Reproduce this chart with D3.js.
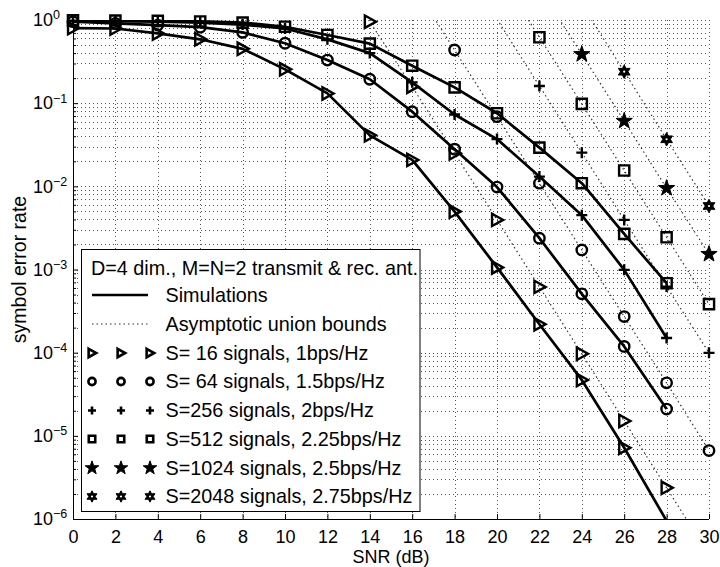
<!DOCTYPE html>
<html><head><meta charset="utf-8">
<script src="https://cdn.jsdelivr.net/npm/d3@7"></script>
<style>
html,body{margin:0;padding:0;background:#fff;}
svg{display:block;font-family:"Liberation Sans",Arial,Helvetica,sans-serif;}
</style></head>
<body>
<svg id="chart" width="720" height="567"></svg>
<script>
// ---------- data ----------
const snrSim = [0,2,4,6,8,10,12,14,16,18,20,22,24,26,28];
const xTicks = [0,2,4,6,8,10,12,14,16,18,20,22,24,26,28,30];
const yMajor = [1e-6,1e-5,1e-4,1e-3,1e-2,1e-1,1];
const yExp = ["\u22126","\u22125","\u22124","\u22123","\u22122","\u22121","0"];

const sim16  = [0.80,0.79,0.69,0.586,0.45,0.255,0.131,0.041,0.0208,0.00497,0.00106,0.00022,0.000047,0.0000072,0.00000095];
const sim64  = [0.954,0.91,0.87,0.82,0.71,0.525,0.33,0.194,0.079,0.028,0.0098,0.00238,0.00051,0.000119,0.000021];
const sim256 = [0.98,0.97,0.955,0.93,0.88,0.79,0.585,0.40,0.178,0.073,0.037,0.0131,0.0045,0.00099,0.00015];
const sim512 = [0.99,0.985,0.975,0.96,0.93,0.83,0.66,0.52,0.282,0.155,0.0756,0.0292,0.0109,0.00268,0.000684];

const bSnr16   = [12,14,16,18,20,22,24,26,28,30];
const bound16  = [6.0,0.954,0.158,0.025,0.00395,0.000618,0.000097,0.0000151,0.00000237,0.00000037];
const bSnr64   = [16,18,20,22,24,26,28,30];
const bound64  = [2.75,0.436,0.0688,0.0109,0.00172,0.000272,0.0000434,0.00000665];
const bSnr256  = [20,22,24,26,28,30];
const bound256 = [1.02,0.161,0.0254,0.00395,0.000623,0.0000995];
const bSnr512  = [20,22,24,26,28,30];
const bound512 = [3.9,0.62,0.098,0.0155,0.00244,0.000383];
const bSnr1024 = [22,24,26,28,30];
const bound1024= [2.4,0.387,0.061,0.0095,0.00153];
const bSnr2048 = [24,26,28,30];
const bound2048= [1.55,0.239,0.0368,0.0058];

const legendTitle = "D=4 dim., M=N=2 transmit & rec. ant.";
const legendLines = ["Simulations","Asymptotic union bounds"];
const legendSeries = ["S= 16 signals, 1bps/Hz","S= 64 signals, 1.5bps/Hz","S=256 signals, 2bps/Hz",
  "S=512 signals, 2.25bps/Hz","S=1024 signals, 2.5bps/Hz","S=2048 signals, 2.75bps/Hz"];
const markerTypes = ["tri","circle","plus","square","star","hex"];

// ---------- layout ----------
const L=73, R=709, T=20, B=519;
const svg = d3.select("#chart");
const x = d3.scaleLinear().domain([0,30]).range([L,R]);
const y = d3.scaleLog().domain([1e-6,1]).range([B,T]);

svg.append("defs").append("clipPath").attr("id","clip")
  .append("rect").attr("x",L).attr("y",T).attr("width",R-L).attr("height",B-T);

// grid
const yMinor = [];
for (let e=-6;e<0;e++) for (let k=2;k<=9;k++) yMinor.push(k*Math.pow(10,e));
const grid = svg.append("g").attr("stroke","#555").attr("stroke-width",1).attr("stroke-dasharray","1,3");
grid.selectAll("line.v").data(xTicks).join("line").attr("class","v")
  .attr("x1",d=>Math.round(x(d))+0.5).attr("x2",d=>Math.round(x(d))+0.5).attr("y1",T).attr("y2",B);
grid.selectAll("line.h").data(yMajor.concat(yMinor)).join("line").attr("class","h")
  .attr("y1",d=>Math.round(y(d))+0.5).attr("y2",d=>Math.round(y(d))+0.5).attr("x1",L).attr("x2",R);

// marker path generator
function markerPath(type, s){
  switch(type){
    case "tri": return `M${-0.8*s},${-s}L${s},0L${-0.8*s},${s}Z`;
    case "square": return `M${-s*0.85},${-s*0.85}H${s*0.85}V${s*0.85}H${-s*0.85}Z`;
    case "plus": return `M${-s},0H${s}M0,${-s}V${s}`;
    case "star": {
      let p=""; for(let i=0;i<10;i++){const r=i%2?s*0.62:s*1.55; const a=-Math.PI/2+i*Math.PI/5;
        p+=(i?"L":"M")+(r*Math.cos(a)).toFixed(2)+","+(r*Math.sin(a)).toFixed(2);} return p+"Z";}
    case "hex": {
      let p=""; for(let i=0;i<12;i++){const r=i%2?s*0.75:s*1.35; const a=-Math.PI/2+i*Math.PI/6;
        p+=(i?"L":"M")+(r*Math.cos(a)).toFixed(2)+","+(r*Math.sin(a)).toFixed(2);} return p+"Z";}
  }
  return "";
}
function drawMarker(g, type, cx, cy, s, sw){
  if (type==="circle"){
    g.append("circle").attr("cx",cx).attr("cy",cy).attr("r",s).attr("fill","none").attr("stroke","#000").attr("stroke-width",sw);
  } else if (type==="star" || type==="hex"){
    g.append("path").attr("d",markerPath(type,s)).attr("transform",`translate(${cx},${cy})`)
      .attr("fill","#000").attr("stroke","#000").attr("stroke-width",1);
    if (type==="hex") g.append("circle").attr("cx",cx).attr("cy",cy).attr("r",1.1).attr("fill","#fff");
  } else {
    g.append("path").attr("d",markerPath(type,s)).attr("transform",`translate(${cx},${cy})`)
      .attr("fill","none").attr("stroke","#000").attr("stroke-width",sw).attr("stroke-linejoin","miter");
  }
}

const line = d3.line().x(d=>x(d[0])).y(d=>y(d[1]));

// bounds
const bounds = [[bSnr16,bound16],[bSnr64,bound64],[bSnr256,bound256],[bSnr512,bound512],[bSnr1024,bound1024],[bSnr2048,bound2048]];
const gB = svg.append("g");
bounds.forEach(([xs,vs])=>{
  gB.append("path").attr("clip-path","url(#clip)").attr("d",line(xs.map((s,i)=>[s,vs[i]])))
    .attr("fill","none").attr("stroke","#333").attr("stroke-width",1.2).attr("stroke-dasharray","1.5,3");
});
// sims
const sims = [sim16,sim64,sim256,sim512];
const gS = svg.append("g");
sims.forEach(vs=>{
  gS.append("path").attr("clip-path","url(#clip)").attr("d",line(snrSim.map((s,i)=>[s,vs[i]])))
    .attr("fill","none").attr("stroke","#000").attr("stroke-width",2.7).attr("stroke-linejoin","round");
});
// markers
const gM = svg.append("g");
const msz = {tri:6.2,circle:5.2,plus:5.5,square:6,star:5.5,hex:5};
bounds.forEach(([xs,vs],k)=>{
  xs.forEach((s,i)=>{ if (vs[i]<=1 && vs[i]>=1e-6) drawMarker(gM, markerTypes[k], x(s), y(vs[i]), msz[markerTypes[k]], 2.4); });
});
sims.forEach((vs,k)=>{
  snrSim.forEach((s,i)=>{ if (vs[i]<=1 && vs[i]>=1e-6) drawMarker(gM, markerTypes[k], x(s), y(vs[i]), msz[markerTypes[k]], 2.4); });
});

// axes
const gx = svg.append("g").attr("transform",`translate(0,${B})`)
  .call(d3.axisBottom(x).tickValues(xTicks).tickSize(-5).tickPadding(11).tickFormat(d3.format("d")));
gx.select(".domain").attr("d",`M${L},0.5H${R}`).attr("stroke","#000");
gx.selectAll("text").attr("font-size",18).attr("fill","#000").attr("font-family","Liberation Sans, Arial, sans-serif");
gx.selectAll("line").attr("stroke","#000");

const gy = svg.append("g").attr("transform",`translate(${L},0)`)
  .call(d3.axisLeft(y).tickValues(yMajor).tickSize(-5).tickPadding(20).tickFormat(()=>"10"));
gy.select(".domain").attr("d",`M0.5,${T}V${B}`).attr("stroke","#000");
gy.selectAll("line").attr("stroke","#000");
gy.selectAll("text").attr("font-size",18).attr("fill","#000").attr("font-family","Liberation Sans, Arial, sans-serif")
  .each(function(d,i){
    const t=d3.select(this);
    t.attr("text-anchor","start").attr("x",-40);
    t.append("tspan").attr("dy","-0.55em").attr("font-size",12.5).text(yExp[yMajor.indexOf(d)]);
  });
const gy2 = svg.append("g").attr("transform",`translate(${L},0)`)
  .call(d3.axisLeft(y).tickValues(yMinor).tickSize(-3).tickFormat(()=>""));
gy2.select(".domain").remove();
gy2.selectAll("line").attr("stroke","#000");

// axis titles
svg.append("text").attr("x",(L+R)/2).attr("y",563).attr("text-anchor","middle").attr("font-size",18).text("SNR (dB)");
svg.append("text").attr("transform",`translate(26,${(T+B)/2}) rotate(-90)`).attr("text-anchor","middle")
  .attr("font-size",19.5).text("symbol error rate");

// legend
const lg = svg.append("g");
lg.append("rect").attr("x",81.5).attr("y",249.5).attr("width",338.5).attr("height",262).attr("fill","#fff").attr("stroke","#000").attr("stroke-width",1);
const fs = 19.8;
lg.append("text").attr("x",91).attr("y",268+0.35*fs).attr("font-size",fs).text(legendTitle);
const rowY = [295,324,353,381.5,410.5,439,468,496.5];
lg.append("line").attr("x1",92).attr("x2",148).attr("y1",rowY[0]).attr("y2",rowY[0]).attr("stroke","#000").attr("stroke-width",2.7);
lg.append("line").attr("x1",92).attr("x2",148).attr("y1",rowY[1]).attr("y2",rowY[1]).attr("stroke","#333").attr("stroke-width",1.2).attr("stroke-dasharray","1.5,3");
legendLines.forEach((t,i)=>lg.append("text").attr("x",165.5).attr("y",rowY[i]+0.35*fs).attr("font-size",fs).text(t));
const lsz = {tri:4.2,circle:3.6,plus:4,square:3.8,star:4.6,hex:4.2};
legendSeries.forEach((t,i)=>{
  const yy = rowY[i+2];
  [92,121,150].forEach(cx=>drawMarker(lg, markerTypes[i], cx, yy, lsz[markerTypes[i]], 2.6));
  lg.append("text").attr("x",165.5).attr("y",yy+0.35*fs).attr("font-size",fs).text(t);
});
</script>
</body></html>
